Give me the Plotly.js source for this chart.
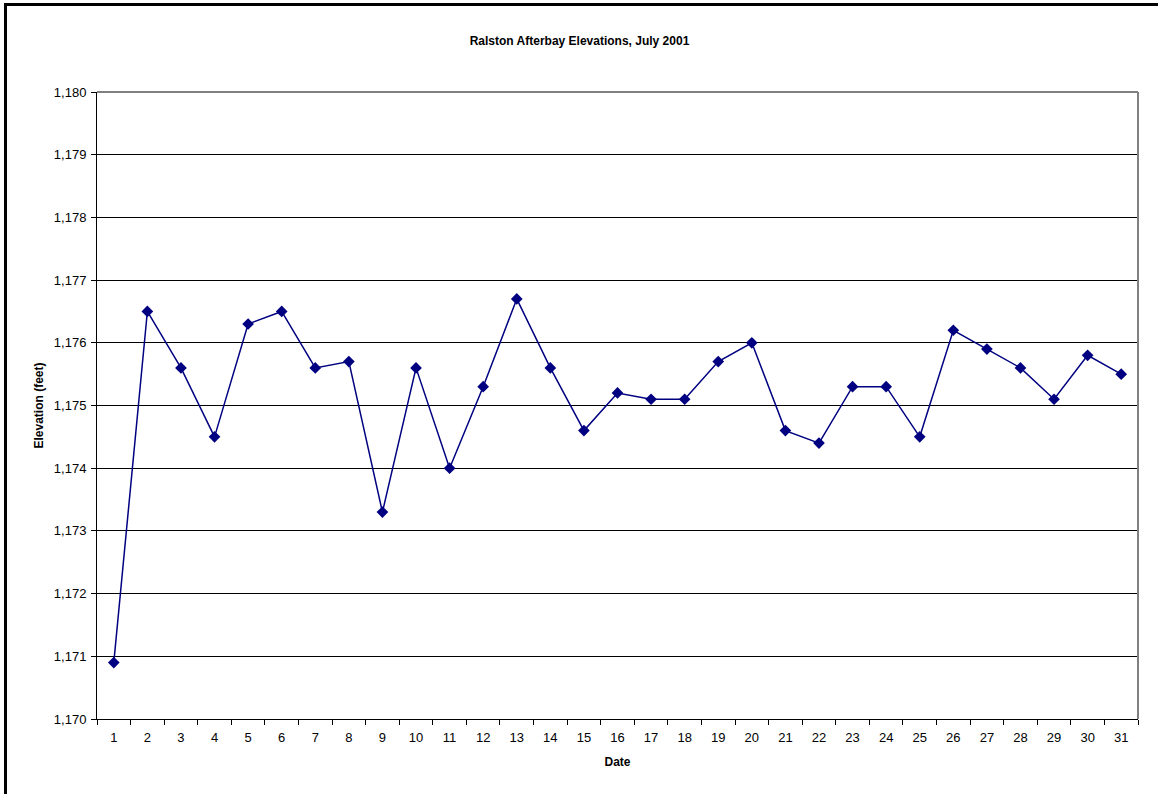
<!DOCTYPE html>
<html>
<head>
<meta charset="utf-8">
<script src="https://cdn.plot.ly/plotly-3.0.1.min.js"></script>
<style>
  body { margin: 0; background: #fff; }
  #chart { position: absolute; left: 0; top: 0; width: 1159px; height: 794px; }
  #frame { position: absolute; left: 4px; top: 3px; width: 1151px; height: 800px;
           border-top: 3px solid #000; border-left: 3px solid #000; pointer-events: none; }
</style>
</head>
<body>
<div id="chart"></div>
<div id="frame"></div>
<script>
// July 2001 days
const days = ['1','2','3','4','5','6','7','8','9','10','11','12','13','14','15','16',
              '17','18','19','20','21','22','23','24','25','26','27','28','29','30','31'];

// afterbay elevation, feet
const elevation = [1170.9, 1176.5, 1175.6, 1174.5, 1176.3, 1176.5, 1175.6, 1175.7,
                   1173.3, 1175.6, 1174.0, 1175.3, 1176.7, 1175.6, 1174.6, 1175.2,
                   1175.1, 1175.1, 1175.7, 1176.0, 1174.6, 1174.4, 1175.3, 1175.3,
                   1174.5, 1176.2, 1175.9, 1175.6, 1175.1, 1175.8, 1175.5];

const yTicks = [1170, 1171, 1172, 1173, 1174, 1175, 1176, 1177, 1178, 1179, 1180];

const font = 'Arial, "Liberation Sans", sans-serif';

let trace = {
    x: days,
    y: elevation,
    type: 'scatter',
    mode: 'lines+markers',
    line: { color: '#000080', width: 1.5 },
    marker: { symbol: 'diamond', size: 9, color: '#000080' },
    hoverinfo: 'none'
};

let layout = {
    width: 1159,
    height: 794,
    margin: { l: 97, r: 21, t: 92, b: 75 },
    paper_bgcolor: '#fff',
    plot_bgcolor: '#fff',
    showlegend: false,
    font: { family: font, size: 13, color: '#000' },
    title: {
        text: '<b>Ralston Afterbay Elevations, July 2001</b>',
        font: { family: font, size: 12, color: '#000' },
        x: 0.5, xanchor: 'center',
        y: 0.948, yanchor: 'middle'
    },
    xaxis: {
        type: 'category',
        range: [-0.5, 30.5],
        tickson: 'boundaries',
        ticks: 'outside',
        ticklen: 5,
        tickcolor: '#000',
        ticklabelstandoff: 6,
        showgrid: false,
        showline: true,
        linecolor: '#000',
        linewidth: 1,
        zeroline: false,
        tickfont: { family: font, size: 13 },
        title: {
            text: '<b>Date</b>',
            font: { family: font, size: 12 },
            standoff: 14
        }
    },
    yaxis: {
        range: [1170, 1180],
        tickvals: yTicks,
        tickformat: ',d',
        ticks: 'outside',
        ticklen: 5,
        tickcolor: '#000',
        ticklabelstandoff: 2,
        showgrid: true,
        gridcolor: '#000',
        gridwidth: 1,
        showline: true,
        linecolor: '#000',
        linewidth: 1,
        zeroline: false,
        tickfont: { family: font, size: 13 },
        title: {
            text: '<b>Elevation (feet)</b>',
            font: { family: font, size: 12 },
            standoff: 7
        }
    },
    shapes: [
        { type: 'line', xref: 'paper', yref: 'paper', x0: 0, x1: 1, y0: 1, y1: 1,
          line: { color: '#808080', width: 2 } },
        { type: 'line', xref: 'paper', yref: 'paper', x0: 1, x1: 1, y0: 0, y1: 1,
          line: { color: '#808080', width: 2 } }
    ]
};

Plotly.newPlot('chart', [trace], layout, { displayModeBar: false, staticPlot: true });
</script>
</body>
</html>
